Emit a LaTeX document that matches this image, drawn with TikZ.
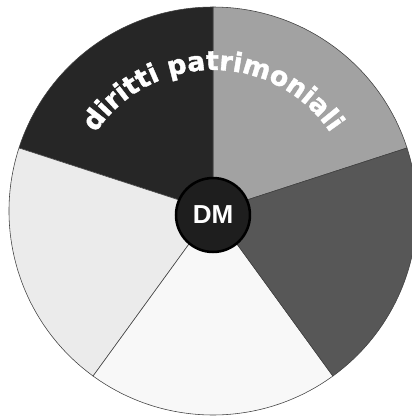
\documentclass[tikz,border=0pt]{standalone}
\usepackage{fontspec}
\setmainfont{Liberation Sans}
\newfontfamily\arcfont{DejaVu Sans}[BoldFeatures={FakeBold=1.4}]
\usepackage{tikz}
\usetikzlibrary{decorations.text}
\definecolor{slicedark}{HTML}{262626}
\definecolor{slicegray}{HTML}{A2A2A2}
\definecolor{slicemid}{HTML}{575757}
\definecolor{slicewhite}{HTML}{F8F8F8}
\definecolor{slicelight}{HTML}{EBEBEB}
\definecolor{hubfill}{HTML}{1E1E1E}

\begin{document}
\begin{tikzpicture}[
  x=0.025cm, y=0.025cm,
  slice/.style={draw=black!75, line width=0.4pt},
  hub/.style={circle, draw=black, line width=1.8pt, fill=hubfill,
              minimum size=52.6pt, inner sep=0pt, text=white,
              font=\bfseries\fontsize{18.5}{18.5}\selectfont}
]
\useasboundingbox (-213,-206) rectangle (199,211);
% five equal slices
\foreach \a/\col in {18/slicegray, 90/slicedark, 162/slicelight, 234/slicewhite, 306/slicemid}{
  \filldraw[slice, fill=\col] (0,0) -- (\a:204) arc[start angle=\a, end angle=\a+72, radius=204] -- cycle;
}
% curved label
\path[decorate, decoration={text along path, text align=center, text color=white,
      text={|\arcfont\bfseries\fontsize{19}{19}\selectfont|diritti patrimoniali}}]
  (180:141) arc[start angle=180, end angle=0, radius=141];
\node[hub] (dm) at (0,-4) {DM};
\end{tikzpicture}
\end{document}
